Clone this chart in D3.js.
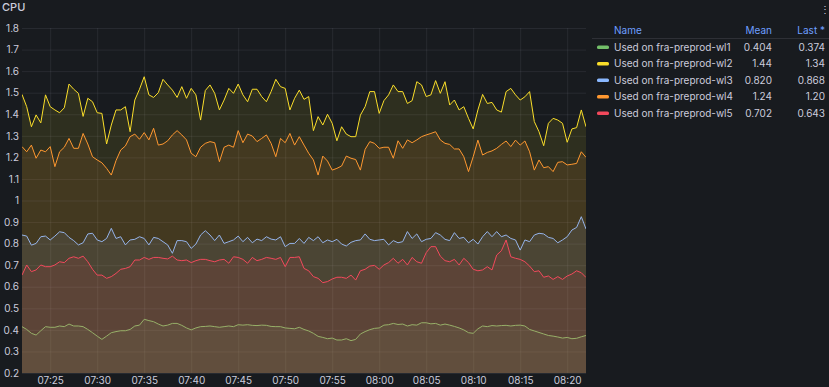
<!DOCTYPE html>
<html>
<head>
<meta charset="utf-8">
<script src="https://cdn.jsdelivr.net/npm/d3@7"></script>
<style>
  body { margin: 0; background: #181b1f; }
  svg { display: block; font-family: Inter, "Noto Sans", sans-serif; }
</style>
</head>
<body>
<div id="chart"></div>
<script>
// one point every 30 s, from 07:22:00 to 08:22:00
var startTime = new Date(2024, 0, 1, 7, 22, 0);
var stepSeconds = 30;

var seriesNames = ["Used on fra-preprod-wl1", "Used on fra-preprod-wl2", "Used on fra-preprod-wl3",
  "Used on fra-preprod-wl4", "Used on fra-preprod-wl5"];
var seriesColors = ["#73bf69", "#fade2a", "#8ab8ff", "#ff9830", "#f2495c"];
var legendMean = ["0.404", "1.44", "0.820", "1.24", "0.702"];
var legendLast = ["0.374", "1.34", "0.868", "1.20", "0.643"];

var wl1 = [
  0.415,0.402,0.384,0.376,0.396,0.415,0.412,0.412,0.418,0.415,
  0.427,0.418,0.418,0.415,0.402,0.387,0.371,0.356,0.371,0.387,
  0.392,0.396,0.396,0.402,0.418,0.422,0.449,0.443,0.438,0.427,
  0.418,0.422,0.430,0.430,0.421,0.409,0.400,0.409,0.415,0.416,
  0.418,0.415,0.412,0.415,0.418,0.415,0.424,0.422,0.424,0.421,
  0.420,0.422,0.421,0.416,0.415,0.415,0.409,0.407,0.405,0.412,
  0.402,0.395,0.384,0.370,0.365,0.359,0.362,0.353,0.353,0.359,
  0.350,0.356,0.381,0.392,0.401,0.407,0.409,0.422,0.424,0.430,
  0.425,0.427,0.418,0.424,0.422,0.433,0.433,0.428,0.430,0.422,
  0.427,0.422,0.416,0.409,0.400,0.387,0.384,0.405,0.418,0.415,
  0.420,0.418,0.420,0.421,0.418,0.421,0.422,0.418,0.402,0.395,
  0.388,0.381,0.374,0.371,0.367,0.362,0.365,0.359,0.361,0.368,
  0.374];

var wl2 = [
  1.492,1.435,1.342,1.397,1.360,1.490,1.435,1.420,1.407,1.430,
  1.540,1.516,1.497,1.390,1.474,1.458,1.407,1.404,1.262,1.350,
  1.420,1.420,1.435,1.319,1.466,1.516,1.574,1.490,1.478,1.500,
  1.562,1.536,1.512,1.478,1.528,1.474,1.520,1.490,1.373,1.510,
  1.536,1.497,1.420,1.466,1.520,1.497,1.540,1.490,1.458,1.516,
  1.516,1.482,1.458,1.505,1.562,1.528,1.520,1.420,1.474,1.512,
  1.469,1.482,1.324,1.389,1.350,1.400,1.358,1.277,1.342,1.308,
  1.296,1.296,1.396,1.435,1.505,1.505,1.404,1.463,1.490,1.536,
  1.505,1.505,1.450,1.463,1.551,1.536,1.482,1.490,1.556,1.497,
  1.551,1.443,1.466,1.420,1.435,1.381,1.332,1.420,1.492,1.450,
  1.455,1.420,1.410,1.505,1.520,1.490,1.466,1.481,1.505,1.366,
  1.319,1.254,1.358,1.381,1.373,1.358,1.270,1.332,1.338,1.420,
  1.342];

var wl3 = [
  0.840,0.835,0.793,0.801,0.832,0.835,0.817,0.835,0.855,0.851,
  0.829,0.814,0.794,0.804,0.845,0.848,0.817,0.809,0.824,0.871,
  0.824,0.832,0.794,0.817,0.820,0.832,0.824,0.794,0.829,0.824,
  0.809,0.794,0.755,0.814,0.814,0.809,0.778,0.798,0.840,0.860,
  0.840,0.814,0.840,0.801,0.809,0.817,0.835,0.809,0.829,0.804,
  0.821,0.814,0.832,0.821,0.817,0.832,0.786,0.801,0.801,0.824,
  0.801,0.829,0.814,0.832,0.804,0.817,0.809,0.820,0.798,0.789,
  0.806,0.814,0.817,0.845,0.820,0.814,0.817,0.820,0.794,0.814,
  0.804,0.809,0.856,0.824,0.845,0.809,0.820,0.824,0.851,0.840,
  0.820,0.814,0.851,0.824,0.829,0.804,0.820,0.798,0.832,0.856,
  0.832,0.856,0.832,0.840,0.824,0.817,0.770,0.817,0.809,0.840,
  0.848,0.845,0.829,0.824,0.804,0.817,0.832,0.863,0.875,0.925,
  0.868];

var wl4 = [
  1.250,1.226,1.257,1.196,1.234,1.226,1.250,1.157,1.226,1.247,
  1.288,1.242,1.242,1.311,1.262,1.203,1.188,1.175,1.149,1.118,
  1.185,1.234,1.253,1.296,1.308,1.284,1.315,1.281,1.335,1.257,
  1.262,1.277,1.304,1.324,1.304,1.281,1.219,1.203,1.247,1.265,
  1.273,1.268,1.180,1.247,1.257,1.247,1.324,1.268,1.308,1.299,
  1.273,1.288,1.304,1.265,1.203,1.288,1.268,1.311,1.257,1.296,
  1.257,1.219,1.188,1.118,1.206,1.183,1.141,1.149,1.160,1.206,
  1.196,1.190,1.141,1.237,1.273,1.265,1.242,1.247,1.247,1.196,
  1.277,1.242,1.281,1.268,1.281,1.296,1.304,1.311,1.319,1.281,
  1.265,1.260,1.239,1.239,1.203,1.134,1.203,1.280,1.211,1.223,
  1.230,1.242,1.260,1.276,1.250,1.280,1.257,1.276,1.226,1.141,
  1.188,1.152,1.157,1.134,1.177,1.180,1.165,1.168,1.172,1.226,
  1.200];

var wl5 = [
  0.654,0.701,0.670,0.678,0.701,0.693,0.693,0.701,0.716,0.712,
  0.732,0.739,0.732,0.742,0.716,0.681,0.654,0.654,0.639,0.647,
  0.662,0.681,0.685,0.693,0.724,0.724,0.736,0.727,0.736,0.736,
  0.732,0.729,0.742,0.724,0.721,0.724,0.712,0.721,0.727,0.727,
  0.721,0.716,0.724,0.727,0.709,0.739,0.736,0.727,0.709,0.736,
  0.721,0.727,0.736,0.732,0.727,0.736,0.693,0.736,0.736,0.739,
  0.685,0.674,0.647,0.639,0.619,0.624,0.636,0.644,0.644,0.639,
  0.654,0.631,0.674,0.681,0.696,0.699,0.681,0.701,0.712,0.732,
  0.709,0.727,0.701,0.736,0.716,0.709,0.758,0.786,0.786,0.742,
  0.721,0.716,0.727,0.701,0.732,0.712,0.681,0.674,0.678,0.693,
  0.678,0.747,0.767,0.817,0.739,0.732,0.727,0.716,0.696,0.670,
  0.674,0.644,0.650,0.634,0.647,0.634,0.650,0.659,0.674,0.665,
  0.643];

var yTickValues = [0.2, 0.3, 0.4, 0.5, 0.6, 0.7, 0.8, 0.9, 1, 1.1, 1.2, 1.3, 1.4, 1.5, 1.6, 1.7, 1.8];
var yTickLabels = ["0.2", "0.3", "0.4", "0.5", "0.6", "0.7", "0.8", "0.9", "1", "1.1", "1.2", "1.3", "1.4", "1.5", "1.6", "1.7", "1.8"];
var xTickLabels = ["07:25", "07:30", "07:35", "07:40", "07:45", "07:50", "07:55", "08:00", "08:05", "08:10", "08:15", "08:20"];

var allSeries = [wl1, wl2, wl3, wl4, wl5];

var svgWidth = 829;
var svgHeight = 387;
var margin = { top: 28, right: 243, bottom: 14, left: 22 };
var width = svgWidth - margin.left - margin.right;
var height = svgHeight - margin.top - margin.bottom;

var textColor = "#ccccdc";
var gridColor = "rgba(204,204,220,0.09)";

var svg = d3.select("#chart")
  .append("svg")
  .attr("width", svgWidth)
  .attr("height", svgHeight);

svg.append("rect")
  .attr("width", svgWidth)
  .attr("height", svgHeight)
  .attr("fill", "#181b1f");

var timeAt = function(i) { return new Date(startTime.getTime() + i * stepSeconds * 1000); };

var x = d3.scaleTime()
  .domain([startTime, timeAt(wl1.length - 1)])
  .range([0, width]);

var y = d3.scaleLinear()
  .domain([0.2, 1.8])
  .range([height, 0]);

var chart = svg.append("g")
  .attr("transform", `translate(${margin.left}, ${margin.top})`);

// grid
var parseHM = d3.timeParse("%Y-%m-%d %H:%M");
var xTickDates = xTickLabels.map(s => parseHM("2024-01-01 " + s));

chart.append("g")
  .attr("class", "xgrid")
  .attr("transform", `translate(0, ${height})`)
  .call(d3.axisBottom(x).tickValues(xTickDates).tickSize(-height).tickFormat(""))
  .call(g => g.select(".domain").remove())
  .call(g => g.selectAll("line").attr("stroke", gridColor));

chart.append("g")
  .attr("class", "ygrid")
  .call(d3.axisLeft(y).tickValues(yTickValues).tickSize(-width).tickFormat(""))
  .call(g => g.select(".domain").remove())
  .call(g => g.selectAll("line").attr("stroke", gridColor));

// series: fill then line, in legend order
chart.append("clipPath").attr("id", "plotClip")
  .append("rect").attr("width", width).attr("height", height);

var plot = chart.append("g").attr("clip-path", "url(#plotClip)");

var area = d3.area()
  .x((d, i) => x(timeAt(i)))
  .y0(height)
  .y1(d => y(d));

var line = d3.line()
  .x((d, i) => x(timeAt(i)))
  .y(d => y(d));

allSeries.forEach(function(values, k) {
  plot.append("path")
    .datum(values)
    .attr("d", area)
    .attr("fill", seriesColors[k])
    .attr("fill-opacity", 0.1);
  plot.append("path")
    .datum(values)
    .attr("d", line)
    .attr("fill", "none")
    .attr("stroke", seriesColors[k])
    .attr("stroke-width", 1)
    .attr("stroke-linejoin", "round");
});

// axes labels
chart.append("g")
  .attr("transform", `translate(0, ${height})`)
  .call(d3.axisBottom(x).tickValues(xTickDates).tickSize(0).tickPadding(4).tickFormat((d, i) => xTickLabels[i]))
  .call(g => g.select(".domain").remove())
  .call(g => g.selectAll("text").attr("fill", textColor).attr("font-size", "10px").attr("font-family", "Inter, sans-serif"));

chart.append("g")
  .call(d3.axisLeft(y).tickValues(yTickValues).tickSize(0).tickPadding(3).tickFormat((d, i) => yTickLabels[i]))
  .call(g => g.select(".domain").remove())
  .call(g => g.selectAll("text").attr("fill", textColor).attr("font-size", "10px").attr("font-family", "Inter, sans-serif"));

// title + menu
svg.append("text")
  .attr("x", 2)
  .attr("y", 11)
  .attr("fill", textColor)
  .attr("font-size", "11px")
  .attr("font-weight", 500)
  .text("CPU");

svg.append("text")
  .attr("x", 820)
  .attr("y", 13)
  .attr("fill", textColor)
  .attr("font-size", "10px")
  .text("⋮");

// legend table
var legend = svg.append("g").attr("font-size", "10px");
var headerColor = "#6e9fff";
var colName = 614, colMean = 772, colLast = 825;

legend.append("text").attr("x", colName).attr("y", 34).attr("fill", headerColor).text("Name");
legend.append("text").attr("x", colMean).attr("y", 34).attr("text-anchor", "end").attr("fill", headerColor).text("Mean");
legend.append("text").attr("x", colLast).attr("y", 34).attr("text-anchor", "end").attr("fill", headerColor).text("Last *");

legend.append("line")
  .attr("x1", 592).attr("x2", 829)
  .attr("y1", 38.5).attr("y2", 38.5)
  .attr("stroke", "rgba(204,204,220,0.12)");

var rows = legend.selectAll("g.row")
  .data(seriesNames)
  .enter()
  .append("g")
  .attr("class", "row")
  .attr("transform", (d, i) => `translate(0, ${47 + i * 16.5})`);

rows.append("rect")
  .attr("x", 597).attr("y", -1.5)
  .attr("width", 12).attr("height", 3.5)
  .attr("rx", 1.5)
  .attr("fill", (d, i) => seriesColors[i]);

rows.append("text")
  .attr("x", colName).attr("y", 3.5)
  .attr("fill", textColor)
  .text(d => d);

rows.append("text")
  .attr("x", colMean).attr("y", 3.5)
  .attr("text-anchor", "end")
  .attr("fill", textColor)
  .text((d, i) => legendMean[i]);

rows.append("text")
  .attr("x", colLast).attr("y", 3.5)
  .attr("text-anchor", "end")
  .attr("fill", textColor)
  .text((d, i) => legendLast[i]);
</script>
</body>
</html>
